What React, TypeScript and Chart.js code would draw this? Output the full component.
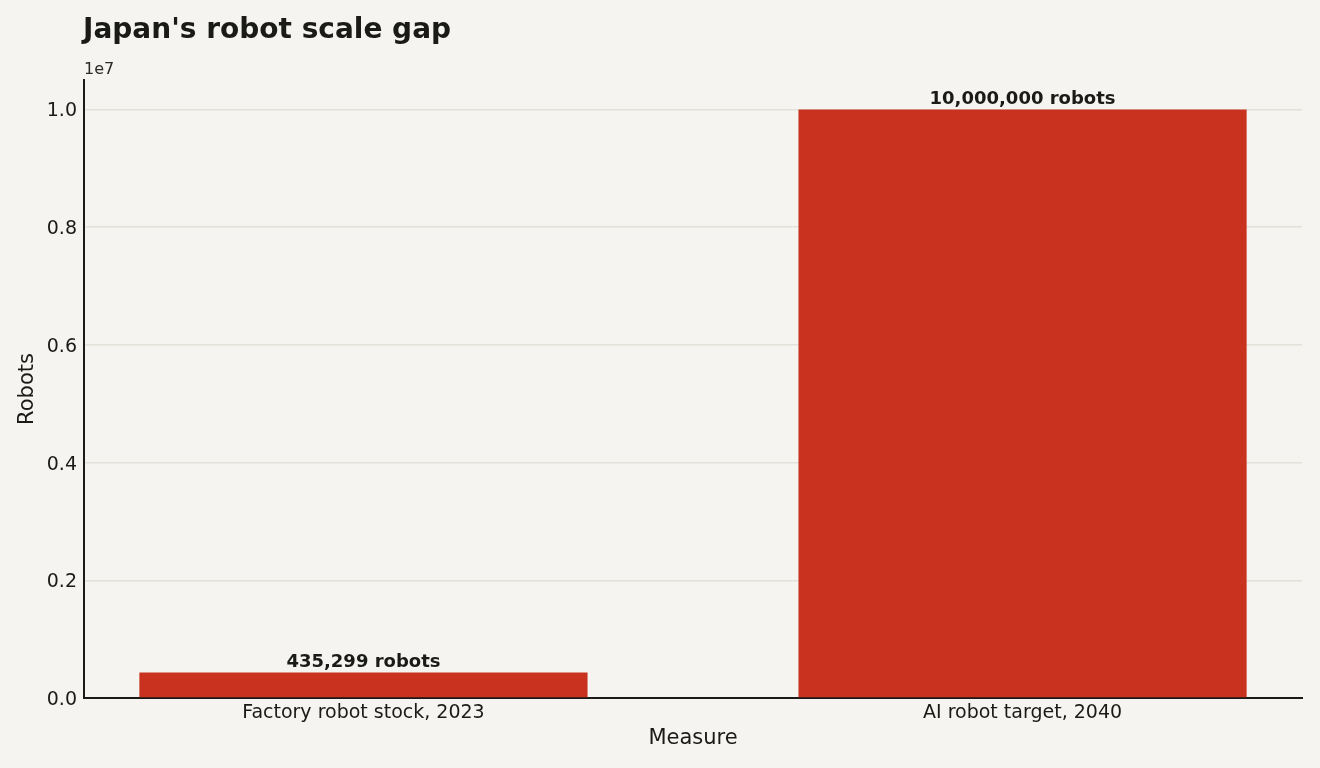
import React, { useEffect, useRef } from "react";
import { Chart, registerables } from "chart.js";

Chart.register(...registerables);

const categories = ["Factory robot stock, 2023", "AI robot target, 2040"];
const robotCounts = [435299, 10000000];
const barLabels = ["435,299 robots", "10,000,000 robots"];
const yTickValues = [0, 2000000, 4000000, 6000000, 8000000, 10000000];

const TITLE = "Japan's robot scale gap";
const X_TITLE = "Measure";
const Y_TITLE = "Robots";
const FONT = "'DejaVu Sans', sans-serif";
const INK = "#1a1a17";
const BG = "#f5f4f0";
const BAR = "#c9321f";

export default function App() {
  const ref = useRef<HTMLCanvasElement | null>(null);

  useEffect(() => {
    if (!ref.current) return;
    const textPlugin = {
      id: "texts",
      afterDraw(chart: any) {
        const ctx = chart.ctx;
        const area = chart.chartArea;
        ctx.save();
        ctx.fillStyle = INK;
        // title
        ctx.font = `bold 28px ${FONT}`;
        ctx.textAlign = "left";
        ctx.textBaseline = "middle";
        ctx.fillText(TITLE, 83, 31);
        // offset text
        ctx.font = `16px ${FONT}`;
        ctx.textBaseline = "bottom";
        ctx.fillStyle = "#2a2a27";
        ctx.fillText("1e7", area.left, area.top - 2);
        // y tick labels
        ctx.fillStyle = INK;
        ctx.font = `19px ${FONT}`;
        ctx.textAlign = "right";
        ctx.textBaseline = "alphabetic";
        const ys = chart.scales.y;
        yTickValues.forEach((v) => {
          const py = ys.getPixelForValue(v);
          ctx.fillText((v / 1e7).toFixed(1), area.left - 7, py + 7);
        });
        // axis titles
        ctx.font = `21px ${FONT}`;
        ctx.textAlign = "center";
        ctx.textBaseline = "middle";
        ctx.fillText(X_TITLE, (area.left + area.right) / 2, 739);
        ctx.save();
        ctx.translate(28, (area.top + area.bottom) / 2);
        ctx.rotate(-Math.PI / 2);
        ctx.fillText(Y_TITLE, 0, 0);
        ctx.restore();
        // bar labels
        const meta = chart.getDatasetMeta(0);
        ctx.font = `bold 18px ${FONT}`;
        ctx.textBaseline = "alphabetic";
        meta.data.forEach((bar: any, i: number) => {
          ctx.fillText(barLabels[i], bar.x, bar.y - 5);
        });
        ctx.restore();
      },
    };

    const chart = new Chart(ref.current, {
      type: "bar",
      data: {
        datasets: [
          {
            data: robotCounts.map((v, i) => ({ x: i, y: v })),
            backgroundColor: BAR,
            borderWidth: 0,
            barPercentage: 0.68,
            categoryPercentage: 1,
          },
        ],
      },
      options: {
        responsive: false,
        animation: false,
        layout: { padding: { top: 80, right: 18, left: 0, bottom: 0 } },
        plugins: { legend: { display: false }, tooltip: { enabled: false }, title: { display: false } },
        scales: {
          x: {
            type: "linear",
            offset: false,
            min: -0.424,
            max: 1.424,
            grid: { display: false, drawTicks: false, offset: false },
            border: { display: true, color: INK, width: 2 },
            afterBuildTicks: (scale: any) => {
              scale.ticks = categories.map((_, i) => ({ value: i }));
            },
            afterFit: (scale: any) => {
              scale.height = 70;
            },
            ticks: {
              autoSkip: false,
              maxRotation: 0,
              padding: 4,
              color: INK,
              font: { family: FONT, size: 19 },
              callback: (v: any) => categories[v] ?? "",
            },
          },
          y: {
            type: "linear",
            min: 0,
            max: 10500000,
            afterBuildTicks: (scale: any) => {
              scale.ticks = yTickValues.map((v) => ({ value: v }));
            },
            afterFit: (scale: any) => {
              scale.width = 84;
            },
            grid: {
              color: (c: any) => (c.tick && c.tick.value === 0 ? "rgba(0,0,0,0)" : "#e2e1da"),
              lineWidth: 1.5,
              drawTicks: false,
            },
            border: { display: true, color: INK, width: 2 },
            ticks: { display: false },
          },
        },
      },
      plugins: [textPlugin],
    } as any);
    return () => chart.destroy();
  }, []);

  return (
    <div style={{ position: "fixed", left: 0, top: 0, width: 1320, height: 768, background: BG }}>
      <canvas ref={ref} width={1320} height={768} style={{ display: "block" }} />
    </div>
  );
}
